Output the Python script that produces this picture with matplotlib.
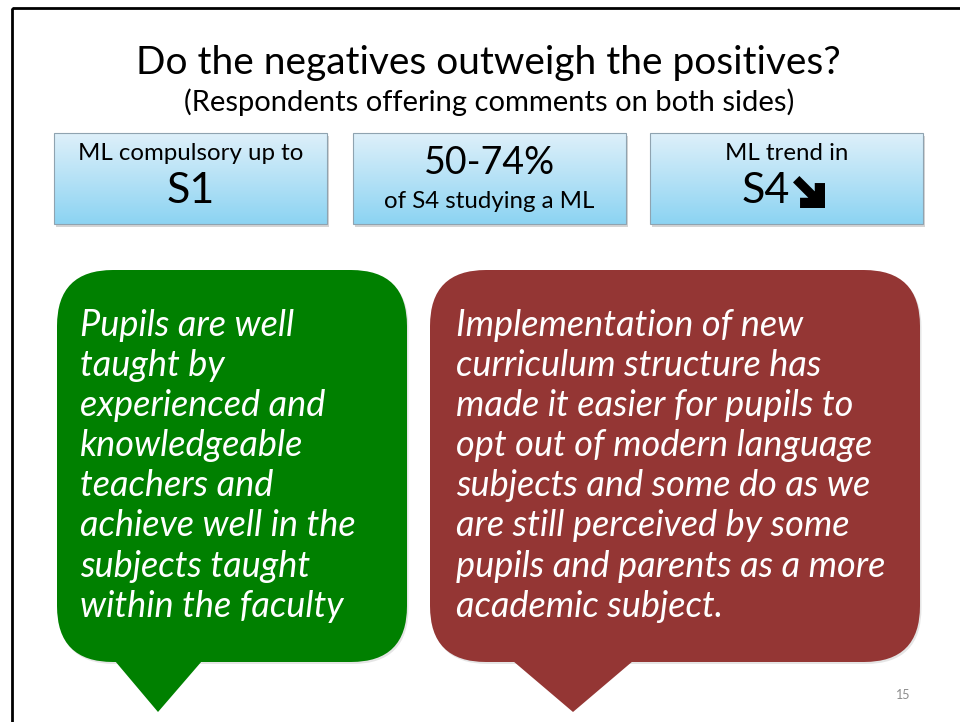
import matplotlib
matplotlib.use("Agg")
import matplotlib.pyplot as plt
from matplotlib.patches import FancyBboxPatch, Rectangle, Polygon
import numpy as np

title = "Do the negatives outweigh the positives?"
subtitle = "(Respondents offering comments on both sides)"

box_small = ["ML compulsory up to", "of S4 studying a ML", "ML trend in"]
box_big = ["S1", "50-74%", "S4"]

green_lines = ["Pupils are well", "taught by", "experienced and", "knowledgeable",
               "teachers and", "achieve well in the", "subjects taught",
               "within the faculty"]
red_lines = ["Implementation of new", "curriculum structure has",
             "made it easier for pupils to", "opt out of modern language",
             "subjects and some do as we", "are still perceived by some",
             "pupils and parents as a more", "academic subject."]
page_no = "15"

W, H = 960, 722
fig = plt.figure(figsize=(W / 100, H / 100), dpi=100)
ax = fig.add_axes([0, 0, 1, 1])
ax.set_xlim(0, W)
ax.set_ylim(H, 0)
ax.axis("off")

font = ["Lato", "DejaVu Sans"]

# slide frame
ax.add_patch(Rectangle((12, 8), 960, 730, fill=False, ec="black", lw=2))

ax.text(488, 63, title, ha="center", va="center", fontsize=28, family=font)
ax.text(489, 102, subtitle, ha="center", va="center", fontsize=21, family=font)

# info boxes with blue gradient
grad = np.linspace(0, 1, 100).reshape(-1, 1)
top = np.array([0.87, 0.94, 0.98])
bot = np.array([0.55, 0.83, 0.95])
img = top + (bot - top) * grad[..., None]
box_x = [54, 353, 650]
bw, bh, by = 273, 91, 133
for i, x0 in enumerate(box_x):
    ax.add_patch(Rectangle((x0 + 1.5, by + 2.5), bw, bh, fc="#b8b8b8", ec="none", alpha=0.6))
    ax.imshow(img, extent=(x0, x0 + bw, by + bh, by), aspect="auto", zorder=2)
    ax.add_patch(Rectangle((x0, by), bw, bh, fill=False, ec="#8fa3b0", lw=0.8, zorder=3))
    cx = x0 + bw / 2
    if i == 1:
        ax.text(cx, 163, box_big[i], ha="center", va="center", fontsize=27,
                family=font, zorder=4)
        ax.text(cx, 201, box_small[i], ha="center", va="center", fontsize=17.3,
                family=font, zorder=4)
    else:
        ax.text(cx, 153, box_small[i], ha="center", va="center", fontsize=17.3,
                family=font, zorder=4)
        if i == 2:
            ax.text(790, 191, box_big[i], ha="right", va="center", fontsize=31,
                    family=font, zorder=4)
            # heavy south-east arrow icon next to "S4"
            ax0, ay0, s = 793, 176, 32
            shape = [(0.0, 0.2), (0.2, 0.0), (0.68, 0.48), (0.68, 0.22), (1.0, 0.22),
                     (1.0, 1.0), (0.22, 1.0), (0.22, 0.68), (0.48, 0.68)]
            ax.add_patch(Polygon([(ax0 + u * s, ay0 + v * s) for u, v in shape],
                                 closed=True, fc="black", ec="none", zorder=4))
        else:
            ax.text(cx, 191, box_big[i], ha="center", va="center", fontsize=31,
                    family=font, zorder=4)

# speech bubbles
bubbles = [
    (57, 270, 350, 392, "#008000", (115, 202, 158), green_lines, 80),
    (430, 270, 490, 392, "#943634", (513, 633, 573), red_lines, 456),
]
for x0, y0, w, h, col, tail, lines, tx in bubbles:
    ax.add_patch(FancyBboxPatch((x0 + 1.5, y0 + 2), w, h,
                                boxstyle="round,pad=0,rounding_size=56",
                                fc="#aaaaaa", ec="none", alpha=0.3, zorder=1))
    ax.add_patch(FancyBboxPatch((x0, y0), w, h, boxstyle="round,pad=0,rounding_size=56",
                                fc=col, ec="none", zorder=2))
    ax.add_patch(Polygon([(tail[0], y0 + h - 1), (tail[1], y0 + h - 1), (tail[2], 712)],
                         closed=True, fc=col, ec="none", zorder=2))
    for k, line in enumerate(lines):
        ax.text(tx, 325 + k * 40.2, line, ha="left", va="center", fontsize=26,
                style="italic", color="white", family=font, zorder=3)

ax.text(903, 695, page_no, ha="center", va="center", fontsize=9, color="#8c8c8c",
        family=font)

fig.savefig("out.png", dpi=100)
